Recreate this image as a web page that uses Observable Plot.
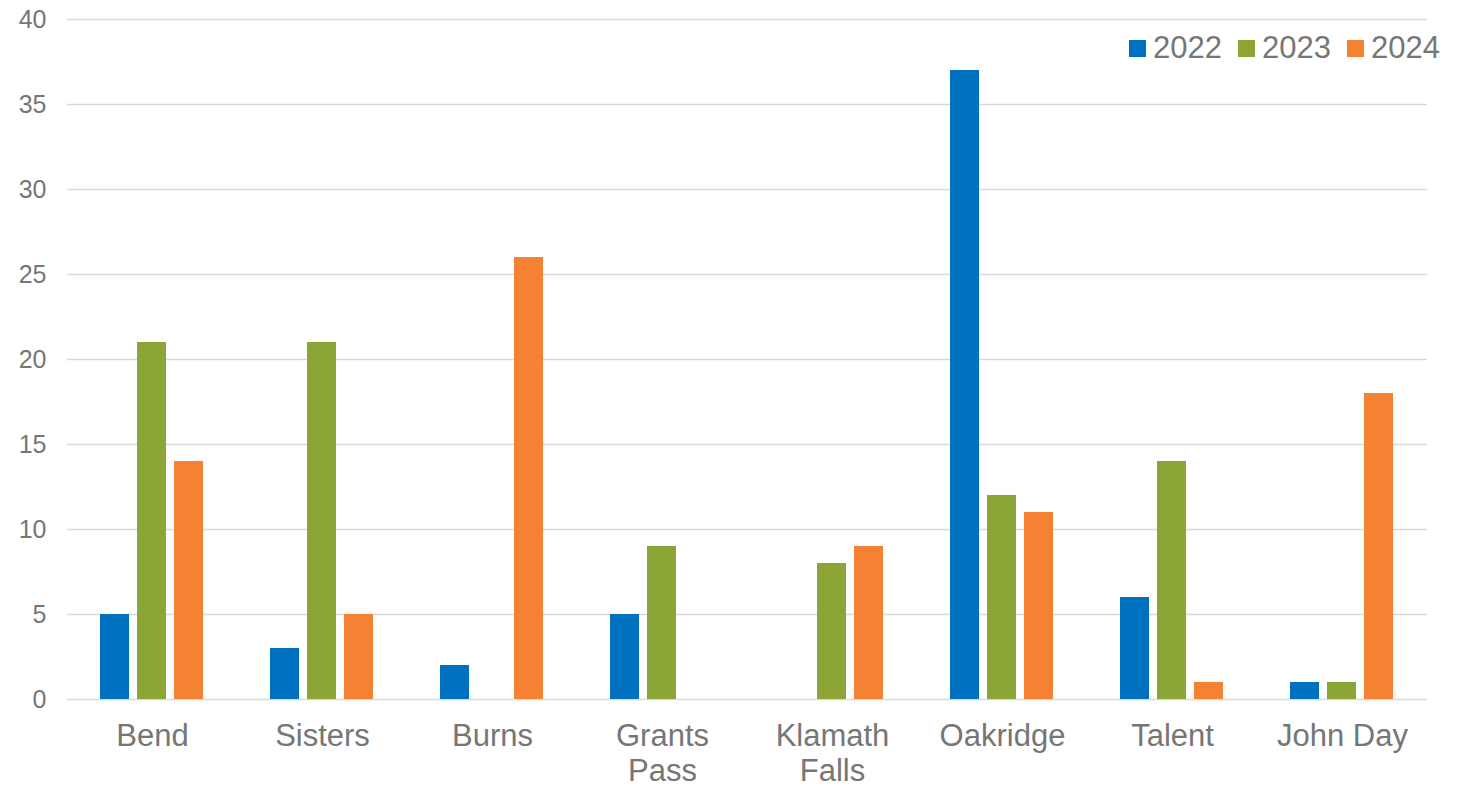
<!DOCTYPE html>
<html>
<head>
<meta charset="utf-8">
<script src="https://cdn.jsdelivr.net/npm/d3@7"></script>
<script src="https://cdn.jsdelivr.net/npm/@observablehq/plot@0.6"></script>
<style>
  html, body { margin: 0; padding: 0; background: #fff; }
  #wrap { position: relative; width: 1461px; height: 787px; font-family: "Liberation Sans", Arial, sans-serif; }
  #legend { position: absolute; left: 1129px; top: 30px; display: flex; align-items: center; color: #767676; font-size: 31px; }
  #legend .item { display: flex; align-items: center; margin-right: 16px; }
  #legend .sw { width: 17px; height: 17px; margin-right: 7px; }
</style>
</head>
<body>
<div id="wrap"></div>
<script>
const cities = ["Bend", "Sisters", "Burns", "Grants\nPass", "Klamath\nFalls", "Oakridge", "Talent", "John Day"];
const years = ["2022", "2023", "2024"];
const colors = ["#0070C0", "#8BA536", "#F58233"];
const v2022 = [5, 3, 2, 5, null, 37, 6, 1];
const v2023 = [21, 21, null, 9, 8, 12, 14, 1];
const v2024 = [14, 5, 26, null, 9, 11, 1, 18];
const yTicks = [0, 5, 10, 15, 20, 25, 30, 35, 40];

const series = [v2022, v2023, v2024];
const data = [];
cities.forEach((c, i) => {
  years.forEach((y, j) => {
    data.push({city: c, year: y, value: series[j][i]});
  });
});

const chart = Plot.plot({
  width: 1461,
  height: 787,
  marginTop: 19,
  marginBottom: 88,
  marginLeft: 67,
  marginRight: 34,
  style: {fontFamily: "'Liberation Sans', Arial, sans-serif", color: "#767676", background: "#fff"},
  fx: {domain: cities, padding: 0, label: null},
  x: {domain: years, paddingInner: 0.21, paddingOuter: 0.842, axis: null},
  y: {domain: [0, 40], label: null},
  color: {domain: years, range: colors},
  marks: [
    Plot.ruleY(yTicks, {stroke: "#d9d9d9", strokeWidth: 1.5}),
    Plot.barY(data, {fx: "city", x: "year", y: "value", fill: "year"}),
    Plot.axisY(yTicks, {fontSize: 25, tickSize: 0, tickPadding: 21, label: null}),
    Plot.axisFx({anchor: "bottom", fontSize: 31, lineHeight: 1.13, tickSize: 0, tickPadding: 22, label: null})
  ]
});

const wrap = document.getElementById("wrap");
wrap.appendChild(chart);
const legend = document.createElement("div");
legend.id = "legend";
years.forEach((y, j) => {
  const it = document.createElement("div");
  it.className = "item";
  const sw = document.createElement("div");
  sw.className = "sw";
  sw.style.background = colors[j];
  const t = document.createElement("span");
  t.textContent = y;
  it.appendChild(sw);
  it.appendChild(t);
  legend.appendChild(it);
});
wrap.appendChild(legend);
</script>
</body>
</html>
